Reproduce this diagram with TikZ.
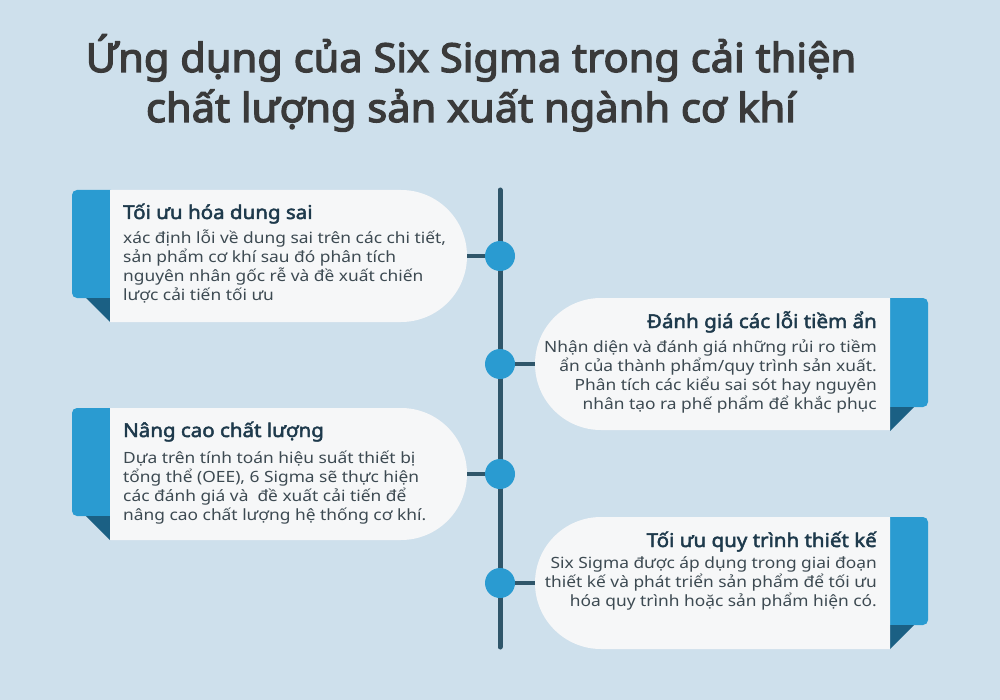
\documentclass[tikz,border=0pt]{standalone}
\usepackage{fontspec}
\setmainfont{Noto Sans}[FakeStretch=1.12]
\newfontfamily\headfont{Noto Sans}[FakeBold=2.4, FakeStretch=1.08]
\newfontfamily\bigfont{Noto Sans}[FakeBold=3.2, FakeStretch=1.04]
\usepackage{tikz}
\usetikzlibrary{shapes.misc}

\definecolor{bgblue}{HTML}{CEE0EC}
\definecolor{cardwhite}{HTML}{F6F7F8}
\definecolor{tabblue}{HTML}{2A9BD1}
\definecolor{folddark}{HTML}{1B6084}
\definecolor{lineslate}{HTML}{2F566A}
\definecolor{titlegray}{HTML}{3A3A3A}
\definecolor{headnavy}{HTML}{1E3A4C}
\definecolor{bodygray}{HTML}{3D4A52}

\tikzset{
  leftcard/.style={rounded rectangle, rounded rectangle left arc=none, fill=cardwhite,
    minimum width=357pt, minimum height=132pt, inner sep=0pt},
  rightcard/.style={rounded rectangle, rounded rectangle right arc=none, fill=cardwhite,
    minimum width=355pt, minimum height=132pt, inner sep=0pt},
  dot/.style={circle, fill=tabblue, minimum size=30pt, inner sep=0pt},
  head/.style={font=\headfont\fontsize{19}{23}\selectfont, text=headnavy, inner sep=0pt},
  body/.style={font=\fontsize{15.5}{18.7}\selectfont, text=bodygray, inner sep=0pt},
  stub/.style={draw=lineslate, line width=4.5pt}
}

\begin{document}
\begin{tikzpicture}[x=1pt, y=-1pt]
\useasboundingbox (0,0) rectangle (1000,700);
\fill[bgblue] (0,0) rectangle (1000,700);

% Title
\node[font=\bigfont\fontsize{40}{50}\selectfont, text=titlegray, align=center, anchor=base, inner sep=0pt]
  (title) at (471,122) {Ứng dụng của Six Sigma trong cải thiện\\chất lượng sản xuất ngành cơ khí};

% Tabs and folds
\fill[tabblue, rounded corners=5pt] (72,190) rectangle (116,298);
\fill[folddark] (86,298) -- (110,298) -- (110,322) -- cycle;
\fill[tabblue, rounded corners=5pt] (884,298) rectangle (928,407);
\fill[folddark] (890,407) -- (914,407) -- (890,431) -- cycle;
\fill[tabblue, rounded corners=5pt] (72,408) rectangle (116,516);
\fill[folddark] (86,516) -- (110,516) -- (110,540) -- cycle;
\fill[tabblue, rounded corners=5pt] (884,517) rectangle (928,625);
\fill[folddark] (890,625) -- (914,625) -- (890,649) -- cycle;

% Nodes
\node[leftcard] (card1) at (288.5,256) {};
\node[rightcard] (card2) at (712.5,364) {};
\node[leftcard] (card3) at (288.5,474) {};
\node[rightcard] (card4) at (712.5,583) {};

\coordinate (tltop) at (500,190);
\coordinate (tlbot) at (500,647);
\draw[lineslate, line width=5pt, line cap=round] (tltop) -- (tlbot);

\node[dot] (dot1) at (500,256) {};
\node[dot] (dot2) at (500,364) {};
\node[dot] (dot3) at (500,474) {};
\node[dot] (dot4) at (500,583) {};

% Arrows
\draw[stub] (card1.east) -- (dot1.west);
\draw[stub] (card2.west) -- (dot2.east);
\draw[stub] (card3.east) -- (dot3.west);
\draw[stub] (card4.west) -- (dot4.east);

% Annotations
\node[head, anchor=base west] (head1) at (123,219) {Tối ưu hóa dung sai};
\node[body, anchor=base west, align=left] (text1) at (123,300)
  {xác định lỗi về dung sai trên các chi tiết,\\sản phẩm cơ khí sau đó phân tích\\nguyên nhân gốc rễ và đề xuất chiến\\lược cải tiến tối ưu};
\node[head, anchor=base east] (head2) at (877,328) {Đánh giá các lỗi tiềm ẩn};
\node[body, anchor=base east, align=right] (text2) at (877,409)
  {Nhận diện và đánh giá những rủi ro tiềm\\ẩn của thành phẩm/quy trình sản xuất.\\Phân tích các kiểu sai sót hay nguyên\\nhân tạo ra phế phẩm để khắc phục};
\node[head, anchor=base west] (head3) at (123,437) {Nâng cao chất lượng};
\node[body, anchor=base west, align=left] (text3) at (123,520)
  {Dựa trên tính toán hiệu suất thiết bị\\tổng thể (OEE), 6 Sigma sẽ thực hiện\\các đánh giá và \ đề xuất cải tiến để\\nâng cao chất lượng hệ thống cơ khí.};
\node[head, anchor=base east] (head4) at (877,547) {Tối ưu quy trình thiết kế};
\node[body, anchor=base east, align=right] (text4) at (877,606)
  {Six Sigma được áp dụng trong giai đoạn\\thiết kế và phát triển sản phẩm để tối ưu\\hóa quy trình hoặc sản phẩm hiện có.};
\end{tikzpicture}
\end{document}
